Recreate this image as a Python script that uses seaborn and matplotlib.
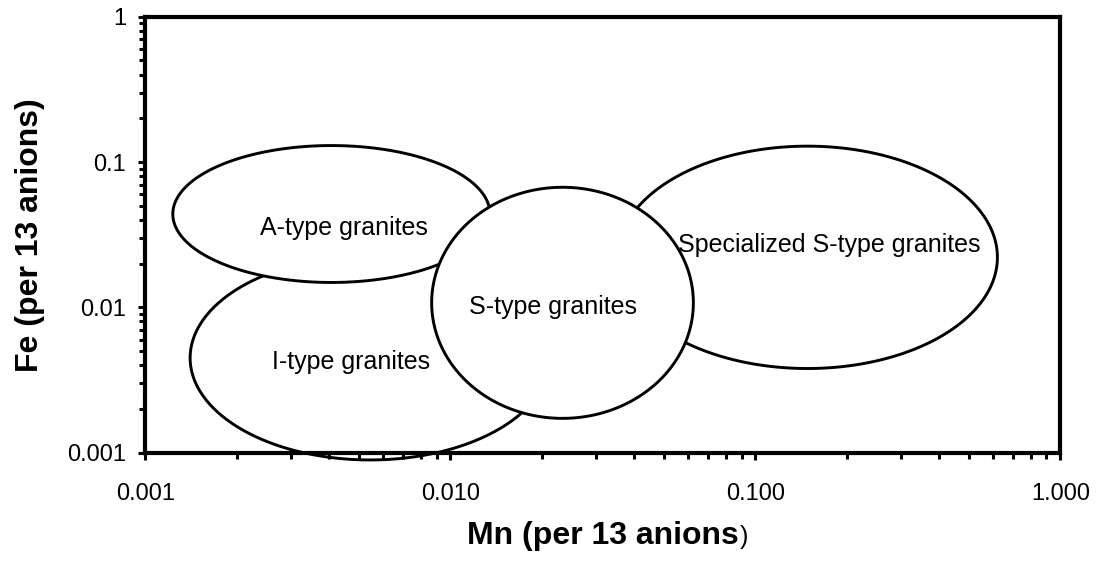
import matplotlib
matplotlib.use("Agg")
import matplotlib.pyplot as plt
import seaborn as sns
import numpy as np

# granite fields, drawn in this order (later ones cover earlier ones)
field_names = ["I-type granites", "A-type granites",
               "Specialized S-type granites", "S-type granites"]
mn_center = [0.00545, 0.00407, 0.148, 0.0233]
fe_center = [0.00449, 0.0439, 0.0221, 0.01075]
# half axes of each field, in decades (log10 units)
mn_spread = [0.590, 0.520, 0.623, 0.429]
fe_spread = [0.702, 0.471, 0.765, 0.795]
# where each field name sits
label_mn = [0.00472, 0.00446, 0.174, 0.0217]
label_fe = [0.00377, 0.0315, 0.0241, 0.0090]

x_ticks = [0.001, 0.01, 0.1, 1.0]
x_tick_labels = ["0.001", "0.010", "0.100", "1.000"]
y_ticks = [0.001, 0.01, 0.1, 1.0]
y_tick_labels = ["0.001", "0.01", "0.1", "1"]

sns.set_style("ticks")
plt.rcParams["font.family"] = ["Liberation Sans", "DejaVu Sans"]
plt.rcParams["text.color"] = "black"
plt.rcParams["axes.labelcolor"] = "black"

fig = plt.figure(figsize=(10.98, 5.63), dpi=100)
ax = fig.add_axes([0.1325, 0.1959, 0.8333, 0.7744])
ax.set_xscale("log")
ax.set_yscale("log")
ax.set_xlim(0.001, 1.0)
ax.set_ylim(0.001, 1.0)
ax.set_axisbelow(False)

t = np.linspace(0, 2 * np.pi, 400)
for i, name in enumerate(field_names):
    lx = np.log10(mn_center[i]) + mn_spread[i] * np.cos(t)
    ly = np.log10(fe_center[i]) + fe_spread[i] * np.sin(t)
    ax.fill(10 ** lx, 10 ** ly, facecolor="white", edgecolor="black",
            linewidth=2.1, zorder=1.1 + 0.1 * i, clip_on=False)
    ax.text(label_mn[i], label_fe[i], name, ha="center", va="baseline",
            fontsize=18, color="black", zorder=3)

ax.set_xticks(x_ticks, x_tick_labels)
ax.set_yticks(y_ticks, y_tick_labels)
ax.tick_params(axis="both", which="major", direction="out", length=5,
               width=2.2, color="black", labelsize=17, labelcolor="black")
ax.tick_params(axis="both", which="minor", direction="out", length=4,
               width=2.2, color="black")
ax.tick_params(axis="x", which="major", pad=17)
ax.tick_params(axis="y", which="major", pad=9)

for side in ["left", "right", "top", "bottom"]:
    ax.spines[side].set_visible(True)
    ax.spines[side].set_linewidth(3)
    ax.spines[side].set_color("black")

xlab = ax.set_xlabel("Mn (per 13 anions", fontsize=23, fontweight="bold",
                     color="black", labelpad=11)
ax.set_ylabel("Fe (per 13 anions)", fontsize=23, fontweight="bold",
              color="black", labelpad=16)
ax.annotate(")", xy=(1, 0), xycoords=xlab, xytext=(1, 1),
            textcoords="offset points", ha="left", va="bottom",
            fontsize=18, color="black")

fig.savefig("out.png", dpi=100, facecolor="white")
